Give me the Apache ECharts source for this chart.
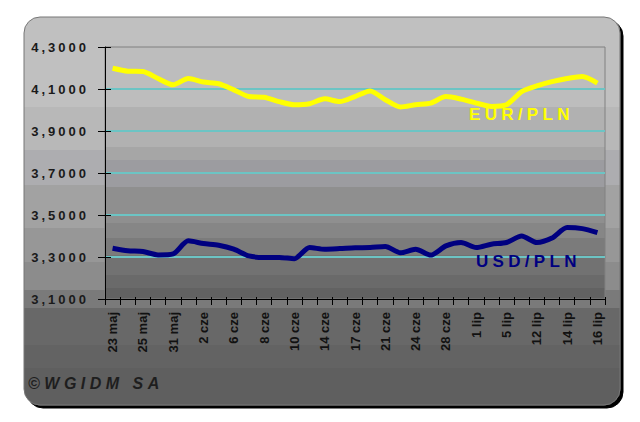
<!DOCTYPE html>
<html><head><meta charset="utf-8">
<script src="https://cdn.jsdelivr.net/npm/echarts@6/dist/echarts.min.js"></script>
<style>html,body{margin:0;padding:0;background:#fff}#c{width:640px;height:422px}</style>
</head><body><div id="c"></div>
<script>
const categories = ['23 maj','24 maj','25 maj','30 maj','31 maj','1 cze','2 cze','3 cze','6 cze','7 cze','8 cze','9 cze','10 cze','13 cze','14 cze','16 cze','17 cze','20 cze','21 cze','22 cze','24 cze','27 cze','28 cze','30 cze','1 lip','4 lip','5 lip','8 lip','12 lip','13 lip','14 lip','15 lip','16 lip'];
const eurPln = [4.199,4.185,4.183,4.150,4.120,4.150,4.133,4.125,4.096,4.064,4.061,4.040,4.025,4.030,4.053,4.040,4.064,4.091,4.049,4.014,4.025,4.033,4.064,4.052,4.033,4.017,4.025,4.088,4.115,4.135,4.150,4.160,4.128];
const usdPln = [3.342,3.330,3.326,3.310,3.315,3.377,3.364,3.356,3.337,3.305,3.298,3.298,3.292,3.345,3.337,3.340,3.344,3.345,3.350,3.320,3.337,3.309,3.353,3.369,3.345,3.361,3.369,3.400,3.369,3.390,3.440,3.435,3.416];
const seriesNames = ['EUR/PLN','USD/PLN'];
const yMin = 3.1, yMax = 4.3, yStep = 0.2;
const copyright = '©WGIDM SA';

function bands(list){
  const stops = [];
  list.forEach(b => { stops.push({offset:b[0], color:b[2]}); stops.push({offset:b[1], color:b[2]}); });
  return {type:'linear', x:0, y:0, x2:0, y2:1, colorStops:stops};
}
function pf(y){ return Math.max(0, Math.min(1, (y-17)/388)); }
const panelBands = [[17,107,'#c0c0c0'],[107,150,'#b8b8b8'],[150,185,'#adadb0'],[185,228,'#a2a2a2'],[228,262,'#979797'],[262,290,'#8c8c8c'],[290,308,'#7a7a7a'],[308,345,'#686868'],[345,368,'#636363'],[368,405,'#5e5e5e']].map(b=>[pf(b[0]),pf(b[1]),b[2]]);
function gf(y){ return Math.max(0, Math.min(1, (y-47)/252)); }
const plotBands = [[47,107,'#bdbdbd'],[107,147,'#b1b1b1'],[147,160,'#a6a6a6'],[160,187,'#9c9ca0'],[187,223,'#8f8f8f'],[223,238,'#868686'],[238,255,'#7b7b7b'],[255,275,'#727272'],[275,288,'#6a6a6a'],[288,299,'#626262']].map(b=>[gf(b[0]),gf(b[1]),b[2]]);

const chart = echarts.init(document.getElementById('c'), null, {renderer:'svg'});
const fontFam = 'Liberation Sans, Arial, sans-serif';
const option = {
  animation:false,
  backgroundColor:'#ffffff',
  graphic:[
    {type:'rect', z:-10, silent:true, shape:{x:24,y:17,width:596,height:388,r:16},
     style:{fill:bands(panelBands), stroke:'#777', lineWidth:1, shadowColor:'#000', shadowOffsetX:3, shadowOffsetY:3, shadowBlur:0}},
    {type:'text', z:100, left:469, top:106, style:{text:seriesNames[0], fill:'#ffff00', font:'bold 17px '+fontFam}},
    {type:'text', z:100, left:476, top:253, style:{text:seriesNames[1], fill:'#000080', font:'bold 17px '+fontFam}},
    {type:'text', z:100, left:28, top:375, style:{text:copyright, fill:'#1e1e1e', font:'italic bold 16px '+fontFam}}
  ],
  grid:{left:105, top:47, right:35, bottom:123, show:true, backgroundColor:bands(plotBands), borderColor:'#808080', borderWidth:1},
  xAxis:[{
    type:'category', data:categories, boundaryGap:true,
    axisLine:{lineStyle:{color:'#000', width:1}},
    axisTick:{show:true, interval:0, length:6, lineStyle:{color:'#000'}},
    axisLabel:{interval:1, rotate:90, margin:13, color:'#111', fontWeight:'bold', fontSize:13, fontFamily:fontFam},
    splitLine:{show:false}
  },{
    type:'category', data:categories, boundaryGap:true, position:'bottom',
    axisLine:{show:false}, axisLabel:{show:false},
    axisTick:{show:true, inside:true, interval:0, length:2, lineStyle:{color:'#000'}}
  }],
  yAxis:[{
    type:'value', min:yMin, max:yMax, interval:yStep,
    axisLine:{show:true, lineStyle:{color:'#000', width:1}},
    axisTick:{show:true, length:7, lineStyle:{color:'#000'}},
    axisLabel:{margin:16, color:'#1a1a1a', fontWeight:'bold', fontSize:13, fontFamily:fontFam,
      formatter:v => v.toFixed(4).replace('.', ',')},
    splitLine:{show:true, showMinLine:false, showMaxLine:false, lineStyle:{color:'#6cc4c4', width:2, opacity:1}}
  },{
    type:'value', min:yMin, max:yMax, interval:yStep, position:'left',
    axisLine:{show:false}, axisLabel:{show:false}, splitLine:{show:false},
    axisTick:{show:true, inside:true, length:6, lineStyle:{color:'#000'}}
  }],
  series:[
    {name:seriesNames[0], type:'line', data:eurPln, smooth:0.25, showSymbol:false, lineStyle:{color:'#ffff00', width:5}, z:5},
    {name:seriesNames[1], type:'line', data:usdPln, smooth:0.25, showSymbol:false, lineStyle:{color:'#000080', width:5}, z:5}
  ]
};
chart.setOption(option);
function applySpacing(){
  document.querySelectorAll('#c svg text').forEach(t => {
    const s = t.textContent;
    if (/^\d,\d{4}$/.test(s)) t.style.letterSpacing = '3px';
    else if (s === seriesNames[0] || s === seriesNames[1]) t.style.letterSpacing = '4.3px';
    else if (s === copyright) t.style.letterSpacing = '4.5px';
  });
}
applySpacing();
chart.on('finished', applySpacing);
setTimeout(applySpacing, 50);
</script>
</body></html>
